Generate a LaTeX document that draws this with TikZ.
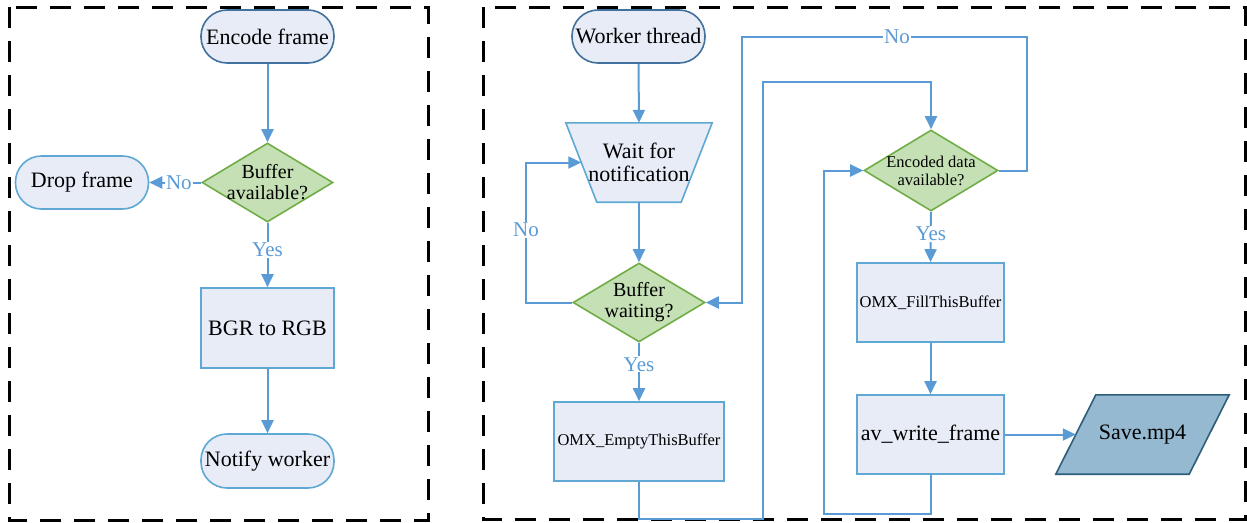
\documentclass[tikz,border=0pt]{standalone}
\usepackage{fontspec}
\setmainfont{Liberation Serif}
\usetikzlibrary{arrows.meta,shapes.geometric,backgrounds}
\definecolor{lblue}{HTML}{5B9BD5}
\definecolor{lightf}{HTML}{E7ECF7}
\definecolor{procb}{HTML}{5FA8D3}
\definecolor{darkb}{HTML}{41719C}
\definecolor{greenf}{HTML}{C5E0B4}
\definecolor{greenb}{HTML}{70AD47}
\definecolor{savef}{HTML}{95B9D0}
\definecolor{saveb}{HTML}{2E5E7A}
\begin{document}
\begin{tikzpicture}[x=1pt,y=-1pt,
  base/.style={font=\fontsize{22}{23}\selectfont, inner sep=0pt, align=center},
  small/.style={font=\fontsize{16.5}{18}\selectfont},
  term/.style={base, draw=darkb, fill=lightf, line width=1.6, rounded corners=26pt, minimum width=133, minimum height=53},
  proc/.style={base, draw=procb, fill=lightf, line width=1.6, minimum width=147, minimum height=79},
  dec/.style={diamond, draw=greenb, fill=greenf, line width=1.6, inner sep=0pt, minimum width=131, minimum height=79},
  dectext/.style={font=\fontsize{20}{21}\selectfont, inner sep=0pt, align=center},
  lbl/.style={font=\fontsize{21}{22}\selectfont, text=lblue, fill=white, inner sep=1pt},
  ln/.style={draw=lblue, line width=2},
  arr/.style={ln, -{Triangle[length=13pt,width=12pt]}},
  dashbox/.style={draw=black, line width=3, dash pattern=on 21pt off 13pt}]
\useasboundingbox (0,0) rectangle (1247,522);

% panels
\draw[dashbox] (9,7) rectangle (428,520);
\draw[dashbox] (483,7) rectangle (1245.5,519);

% left panel
\node[term] (enc) at (267.5,36.5) {Encode frame};
\node[dec, label={[dectext]center:Buffer\\available?}] (ba) at (267.5,182.5) {};
\node[term, draw=procb] (drop) at (82,182.5) {Drop frame};
\node[proc, minimum width=133, minimum height=80] (bgr) at (267.5,328) {BGR to RGB};
\node[term, draw=procb, minimum height=54] (notify) at (267.5,461) {Notify worker};

\draw[arr] (enc) -- (ba);
\draw[arr] (ba.west) -- node[lbl, pos=0.43]{No} (drop.east);
\draw[arr] (ba.south) -- node[lbl, pos=0.42]{Yes} (bgr.north);
\draw[arr] (bgr) -- (notify);

% right panel
\node[term] (wt) at (638.5,36.5) {Worker thread};
\node[base, minimum width=146, minimum height=79] (wait) at (639,162.5) {Wait for\\notification};
\node[dec, minimum width=132, label={[dectext]center:Buffer\\waiting?}] (bw) at (639,302.5) {};
\node[proc, small, minimum width=170] (omxe) at (639,441.5) {OMX\_EmptyThisBuffer};
\node[dec, minimum width=134, minimum height=81, label={[dectext, small]center:Encoded data\\available?}] (ed) at (931,170.5) {};
\node[proc, small] (fillb) at (930.5,302.5) {OMX\_FillThisBuffer};
\node[proc] (avw) at (930.5,434.5) {av\_write\_frame};
\node[base, minimum width=173, minimum height=79] (save) at (1142.5,434.5) {Save.mp4};

\begin{scope}[on background layer]
  \draw[draw=procb, fill=lightf, line width=1.6]
    (wait.north west) -- (wait.north east) -- ([xshift=-31]wait.south east)
    -- ([xshift=31]wait.south west) -- cycle;
  \draw[draw=saveb, fill=savef, line width=1.6]
    ([xshift=40]save.north west) -- (save.north east) -- ([xshift=-40]save.south east)
    -- (save.south west) -- cycle;
\end{scope}

\draw[arr] (wt.south) -- (wait.north);
\draw[arr] (wait.south) -- (bw.north);
\draw[arr] (bw.west) -| node[lbl, pos=0.76]{No} (526,162.5) -- ([xshift=15.5]wait.west);
\draw[arr] (bw.south) -- node[lbl, pos=0.37]{Yes} (omxe.north);
\draw[arr] (omxe.south) -- (639,519) -| (763,82) -| (ed.north);
\draw[arr] (ed.east) -- (1027,170.5) |- node[lbl, pos=0.728]{No} (742,37) |- (bw.east);
\draw[arr] (ed.south) -- node[lbl, pos=0.44]{Yes} (fillb.north);
\draw[arr] (fillb) -- (avw);
\draw[arr] (avw.south) |- (824,514) |- (ed.west);
\draw[arr] (avw.east) -- ([xshift=20]save.west);
\end{tikzpicture}
\end{document}
